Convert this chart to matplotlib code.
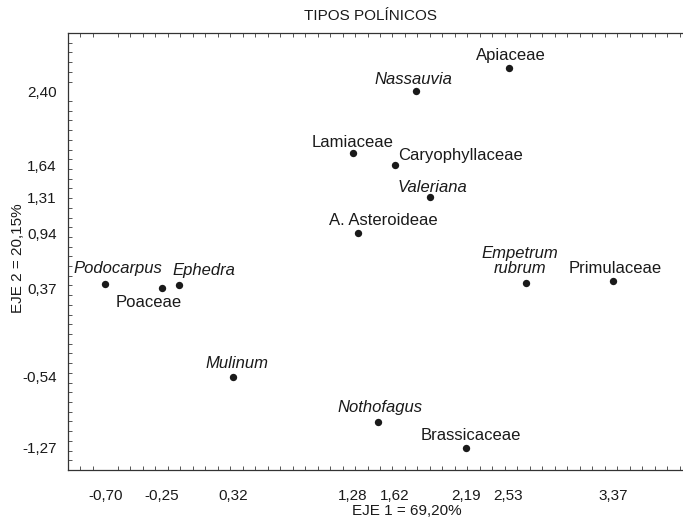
"""
PCA biplot of pollen types (TIPOS POLINICOS), axes 1 and 2.
"""
import matplotlib
matplotlib.use('Agg')
import matplotlib.pyplot as plt
from matplotlib.ticker import MultipleLocator, FixedLocator

# Pollen types and their scores on EJE 1 / EJE 2
taxa = [
    'Apiaceae', 'Nassauvia', 'Lamiaceae', 'Caryophyllaceae', 'Valeriana',
    'A. Asteroideae', 'Empetrum\nrubrum', 'Primulaceae', 'Podocarpus',
    'Poaceae', 'Ephedra', 'Mulinum', 'Nothofagus', 'Brassicaceae',
]
eje1 = [2.53, 1.79, 1.28, 1.62, 1.90, 1.32, 2.67, 3.37, -0.70,
        -0.25, -0.11, 0.32, 1.48, 2.19]
eje2 = [2.64, 2.40, 1.76, 1.64, 1.31, 0.94, 0.43, 0.45, 0.42,
        0.37, 0.41, -0.54, -1.01, -1.27]
italic = ['Nassauvia', 'Valeriana', 'Empetrum\nrubrum', 'Podocarpus',
          'Ephedra', 'Mulinum', 'Nothofagus']

xticks = [-0.70, -0.25, 0.32, 1.28, 1.62, 2.19, 2.53, 3.37]
yticks = [2.40, 1.64, 1.31, 0.94, 0.37, -0.54, -1.27]

# label placement: offset in pixels from the dot, horizontal alignment
offsets = {
    'Apiaceae': (2, 12, 'center'),
    'Nassauvia': (-3, 12, 'center'),
    'Lamiaceae': (0, 11, 'center'),
    'Caryophyllaceae': (3, 10, 'left'),
    'Valeriana': (3, 10, 'center'),
    'A. Asteroideae': (26, 13, 'center'),
    'Empetrum\nrubrum': (-6, 22, 'center'),
    'Primulaceae': (2, 12, 'center'),
    'Podocarpus': (12, 15, 'center'),
    'Poaceae': (-13, -14, 'center'),
    'Ephedra': (-7, 14, 'left'),
    'Mulinum': (4, 13, 'center'),
    'Nothofagus': (3, 15, 'center'),
    'Brassicaceae': (5, 12, 'center'),
}


def fmt(v):
    return f'{v:.2f}'.replace('.', ',')


def main():
    plt.rcParams['font.family'] = ['Liberation Sans', 'DejaVu Sans']
    fig = plt.figure(figsize=(6.83, 5.19), dpi=100)
    ax = fig.add_axes([68 / 683, 49 / 519, 624 / 683, 437 / 519])

    ink = '#1a1a1a'
    ax.scatter(eje1, eje2, s=28, color=ink, zorder=3, linewidths=0)

    for name, x, y in zip(taxa, eje1, eje2):
        dx, dy, ha = offsets[name]
        ax.annotate(
            name, (x, y), xytext=(dx, dy), textcoords='offset pixels',
            ha=ha, va='center', fontsize=12, color=ink,
            style='italic' if name in italic else 'normal',
            linespacing=1.0,
        )

    ax.set_xlim(-1.0, 4.0)
    ax.set_ylim(-1.5, 3.0)
    ax.xaxis.set_major_locator(FixedLocator(xticks))
    ax.yaxis.set_major_locator(FixedLocator(yticks))
    ax.set_xticklabels([fmt(v) for v in xticks])
    ax.set_yticklabels([fmt(v) for v in yticks])
    ax.xaxis.set_minor_locator(MultipleLocator(0.1))
    ax.yaxis.set_minor_locator(MultipleLocator(0.1))
    ax.tick_params(which='major', length=0, labelsize=11, colors=ink)
    ax.tick_params(axis='x', which='major', pad=14)
    ax.tick_params(axis='y', which='major', pad=8)
    ax.tick_params(which='minor', direction='in', length=3, width=0.7,
                   top=True, bottom=True, left=True, right=True, color='#555')
    for sp in ax.spines.values():
        sp.set_linewidth(0.9)
        sp.set_color('#333333')

    fig.text(370 / 683, 1 - 16 / 519, 'TIPOS POLÍNICOS', ha='center',
             va='center', fontsize=11, color=ink)
    fig.text(407 / 683, 1 - 511 / 519, 'EJE 1 = 69,20%', ha='center',
             va='center', fontsize=11, color=ink)
    fig.text(18 / 683, 1 - 258 / 519, 'EJE 2 = 20,15%', ha='center',
             va='center', rotation=90, fontsize=11, color=ink)

    fig.savefig('out.png', dpi=100)
    plt.close(fig)


if __name__ == '__main__':
    main()
